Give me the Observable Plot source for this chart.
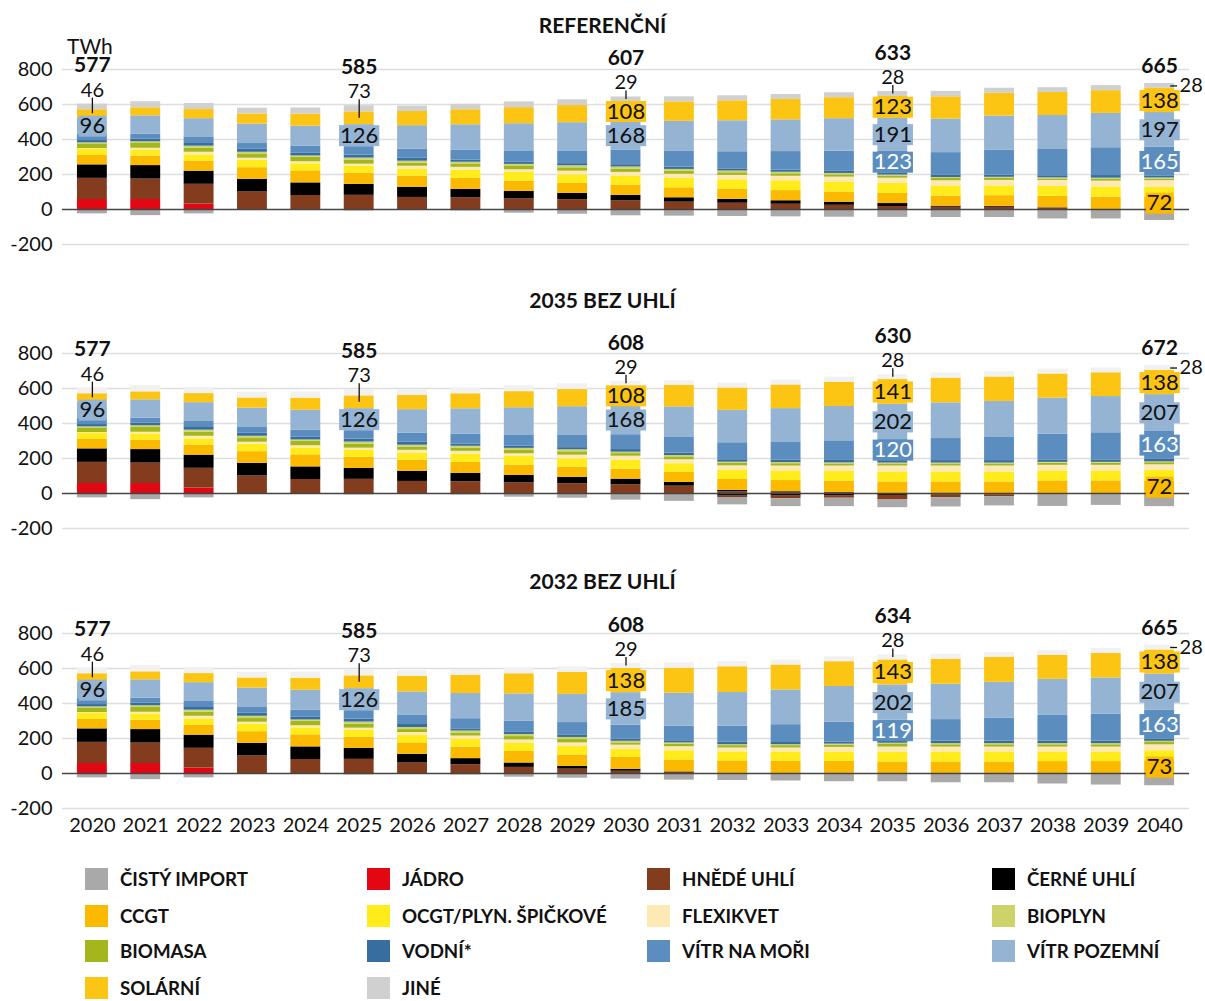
<!DOCTYPE html>
<html>
<head>
<meta charset="utf-8">
<script src="https://cdn.jsdelivr.net/npm/d3@7"></script>
<script src="https://cdn.jsdelivr.net/npm/@observablehq/plot@0.6"></script>
<style>
  html, body { margin: 0; padding: 0; background: #fff; }
  body { font-family: Lato, "Open Sans", sans-serif; color: #111; }
  #root { position: relative; width: 1205px; height: 1001px; overflow: hidden; }
  .ptitle { position: absolute; left: 0; width: 1205px; text-align: center; font-weight: 700; font-size: 21px; line-height: 22px; color: #111; }
  .panel { position: absolute; left: 0; }
  .unit { position: absolute; left: 67px; top: 38px; height: 16px; font-size: 21px; line-height: 16px; color: #111; }
  .leg { position: absolute; display: flex; align-items: center; font-weight: 700; font-size: 18.7px; color: #111; white-space: nowrap; }
  .sw { width: 23px; height: 22px; margin-right: 12px; flex: none; }
</style>
</head>
<body>
<div id="root"></div>
<script>
// ---------- categories ----------
const YEARS = ["2020","2021","2022","2023","2024","2025","2026","2027","2028","2029","2030",
               "2031","2032","2033","2034","2035","2036","2037","2038","2039","2040"];

const SERIES_KEYS   = ["import","jadro","hnede","cerne","ccgt","ocgt","flexi","bioplyn","biomasa","vodni","vitrMore","vitrPoz","solar","jine"];
const SERIES_NAMES  = ["ČISTÝ IMPORT","JÁDRO","HNĚDÉ UHLÍ","ČERNÉ UHLÍ","CCGT","OCGT/PLYN. ŠPIČKOVÉ","FLEXIKVET","BIOPLYN","BIOMASA","VODNÍ*","VÍTR NA MOŘI","VÍTR POZEMNÍ","SOLÁRNÍ","JINÉ"];
const SERIES_COLORS = ["#a9a9a9","#e30613","#843c1e","#000000","#fbb900","#ffec1a","#fee8b4","#cdd36a","#a3b71d","#386da0","#5b8ebf","#95b3d3","#fcc413","#d0d0d0"];
const JINE_LIGHT = "#f1f1f1";

// ---------- scenario 1: REFERENČNÍ (TWh) ----------
const REF_JADRO    = [57, 57, 31, 0, 0, 0, 0, 0, 0, 0, 0, 0, 0, 0, 0, 0, 0, 0, 0, 0, 0];
const REF_HNEDE    = [121, 117, 113, 100, 80, 81, 69, 67, 61, 56, 50, 42, 36, 30, 24, 17, 13, 13, 8, 0, 0];
const REF_CERNE    = [77, 77, 75, 72, 72, 63, 58, 48, 42, 36, 31, 25, 22, 20, 18, 17, 6, 5, 2, 0, 0];
const REF_CCGT     = [54, 54, 58, 67, 69, 63, 63, 63, 59, 58, 58, 57, 57, 58, 58, 58, 58, 61, 65, 71, 72];
const REF_OCGT     = [35, 35, 35, 42, 40, 40, 40, 46, 50, 48, 52, 54, 55, 56, 57, 58, 58, 56, 58, 58, 55];
const REF_FLEXI    = [4, 10, 15, 12, 12, 12, 17, 17, 15, 21, 21, 23, 25, 26, 28, 29, 29, 31, 33, 33, 38];
const REF_BIOMASA  = [27, 27, 23, 21, 25, 23, 17, 17, 19, 19, 19, 17, 15, 14, 13, 12, 13, 12, 9, 10, 8];
const REF_BIOPLYN  = [6, 10, 12, 13, 8, 12, 12, 12, 12, 12, 12, 11, 10, 9, 8, 6, 6, 6, 6, 7, 7];
const REF_VODNI    = [13, 15, 15, 17, 15, 17, 17, 12, 12, 12, 13, 13, 12, 12, 12, 12, 12, 12, 12, 15, 12];
const REF_VITRMORE = [34, 29, 38, 33, 40, 48, 52, 58, 65, 73, 82, 90, 98, 106, 115, 123, 130, 144, 150, 159, 165];
const REF_VITRPOZ  = [96, 104, 104, 111, 115, 126, 134, 144, 155, 161, 168, 172, 177, 181, 186, 191, 192, 194, 194, 196, 197];
const REF_SOLAR    = [46, 46, 52, 58, 69, 73, 81, 86, 92, 98, 108, 111, 114, 117, 120, 123, 127, 130, 132, 130, 138];
const REF_JINE     = [32, 35, 35, 33, 35, 35, 31, 31, 33, 33, 29, 29, 29, 28, 28, 28, 31, 29, 27, 29, 28];
const REF_IMPORT   = [-25, -35, -25, -3, -2, -8, 0, -8, -21, -27, -36, -38, -40, -42, -44, -45, -46, -46, -54, -54, -63];

const REF_LABEL_YEARS = ["2020","2025","2030","2035","2040"];
const REF_TOTALS      = [577, 585, 607, 633, 665];
const REF_TOP_VALUES  = [46, 73, 29, 28, 28];
const REF_TOP_SERIES  = ["solar","solar","jine","jine","jine"];
const REF_BOX_YEARS   = ["2020","2025","2030","2030","2035","2035","2035","2040","2040","2040","2040"];
const REF_BOX_SERIES  = ["vitrPoz","vitrPoz","solar","vitrPoz","solar","vitrPoz","vitrMore","solar","vitrPoz","vitrMore","ccgt"];
const REF_BOX_VALUES  = [96, 126, 108, 168, 123, 191, 123, 138, 197, 165, 72];

// ---------- scenario 2: 2035 BEZ UHLÍ ----------
const B35_JADRO    = [57, 57, 31, 0, 0, 0, 0, 0, 0, 0, 0, 0, 0, 0, 0, 0, 0, 0, 0, 0, 0];
const B35_HNEDE    = [121, 117, 113, 100, 80, 81, 69, 67, 61, 56, 50, 42, 10, 5, 3, 0, 0, 0, 0, 0, 0];
const B35_CERNE    = [77, 77, 75, 72, 72, 63, 58, 48, 42, 36, 32, 21, 8, 5, 3, 0, 0, 0, 0, 0, 0];
const B35_CCGT     = [54, 54, 58, 67, 69, 63, 63, 63, 59, 58, 57, 58, 62, 64, 65, 66, 66, 66, 72, 72, 72];
const B35_OCGT     = [35, 35, 35, 42, 40, 40, 40, 46, 50, 48, 51, 49, 52, 55, 56, 57, 57, 57, 57, 57, 60];
const B35_FLEXI    = [4, 10, 15, 12, 12, 12, 17, 17, 15, 21, 23, 23, 26, 28, 30, 34, 34, 34, 32, 32, 32];
const B35_BIOMASA  = [27, 27, 23, 21, 25, 23, 17, 17, 19, 19, 15, 16, 14, 13, 12, 12, 12, 12, 12, 12, 12];
const B35_BIOPLYN  = [6, 10, 12, 13, 8, 12, 12, 12, 12, 12, 8, 8, 7, 7, 6, 5, 5, 5, 5, 5, 5];
const B35_VODNI    = [13, 15, 15, 17, 15, 17, 17, 12, 12, 12, 15, 14, 14, 14, 14, 14, 14, 14, 14, 14, 14];
const B35_VITRMORE = [34, 29, 38, 33, 40, 48, 52, 58, 65, 73, 85, 89, 97, 104, 112, 120, 126, 132, 147, 155, 163];
const B35_VITRPOZ  = [96, 104, 104, 111, 115, 126, 134, 144, 155, 161, 168, 175, 185, 190, 196, 202, 204, 206, 206, 207, 207];
const B35_SOLAR    = [46, 46, 52, 58, 69, 73, 81, 86, 92, 98, 108, 123, 128, 135, 139, 141, 141, 140, 138, 136, 138];
const B35_JINE     = [32, 35, 35, 33, 35, 35, 31, 31, 33, 33, 29, 26, 28, 28, 28, 28, 30, 30, 28, 27, 28];
const B35_CERNE_NEG = [0, 0, 0, 0, 0, 0, 0, 0, 0, 0, 0, -5, -15, -15, -12, -11, -9, -8, -3, 0, 0];
const B35_HNEDE_NEG = [0, 0, 0, 0, 0, 0, 0, 0, 0, 0, 0, 0, -8, -15, -15, -26, -15, -10, -5, 0, 0];
const B35_IMPORT   = [-25, -35, -25, -3, -2, -8, 0, -8, -21, -27, -38, -40, -42, -45, -48, -44, -53, -53, -66, -68, -75];

const B35_LABEL_YEARS = ["2020","2025","2030","2035","2040"];
const B35_TOTALS      = [577, 585, 608, 630, 672];
const B35_TOP_VALUES  = [46, 73, 29, 28, 28];
const B35_TOP_SERIES  = ["solar","solar","jine","jine","jine"];
const B35_BOX_YEARS   = ["2020","2025","2030","2030","2035","2035","2035","2040","2040","2040","2040"];
const B35_BOX_SERIES  = ["vitrPoz","vitrPoz","solar","vitrPoz","solar","vitrPoz","vitrMore","solar","vitrPoz","vitrMore","ccgt"];
const B35_BOX_VALUES  = [96, 126, 108, 168, 141, 202, 120, 138, 207, 163, 72];

// ---------- scenario 3: 2032 BEZ UHLÍ ----------
const B32_JADRO    = [57, 57, 31, 0, 0, 0, 0, 0, 0, 0, 0, 0, 0, 0, 0, 0, 0, 0, 0, 0, 0];
const B32_HNEDE    = [121, 117, 113, 100, 80, 81, 60, 50, 35, 25, 13, 6, 0, 0, 0, 0, 0, 0, 0, 0, 0];
const B32_CERNE    = [77, 77, 75, 72, 72, 63, 50, 35, 25, 15, 11, 3, 0, 0, 0, 0, 0, 0, 0, 0, 0];
const B32_CCGT     = [54, 54, 58, 67, 69, 63, 65, 66, 66, 66, 68, 68, 72, 70, 70, 66, 66, 66, 68, 68, 73];
const B32_OCGT     = [35, 35, 35, 42, 40, 40, 42, 46, 48, 48, 47, 53, 51, 53, 53, 55, 57, 57, 55, 55, 57];
const B32_FLEXI    = [4, 10, 15, 12, 12, 12, 17, 17, 18, 21, 23, 23, 23, 23, 26, 30, 28, 28, 28, 28, 34];
const B32_BIOMASA  = [27, 27, 23, 21, 25, 23, 17, 17, 19, 19, 13, 15, 13, 13, 13, 15, 13, 13, 13, 13, 13];
const B32_BIOPLYN  = [6, 10, 12, 13, 8, 12, 12, 12, 12, 12, 9, 7, 6, 6, 6, 7, 7, 7, 7, 7, 7];
const B32_VODNI    = [13, 15, 15, 17, 15, 17, 17, 12, 12, 12, 13, 12, 15, 12, 12, 12, 14, 14, 14, 14, 14];
const B32_VITRMORE = [34, 29, 38, 33, 40, 48, 52, 58, 65, 73, 80, 83, 91, 102, 113, 119, 123, 132, 147, 155, 163];
const B32_VITRPOZ  = [96, 104, 104, 111, 115, 126, 134, 144, 155, 161, 185, 189, 192, 198, 204, 202, 202, 204, 206, 206, 207];
const B32_SOLAR    = [46, 46, 52, 58, 69, 73, 90, 105, 115, 125, 138, 143, 147, 143, 142, 143, 143, 142, 138, 140, 138];
const B32_JINE     = [32, 35, 35, 33, 35, 35, 31, 31, 33, 33, 29, 30, 30, 28, 28, 28, 28, 28, 28, 28, 28];
const B32_IMPORT   = [-25, -35, -25, -3, -2, -8, 0, -8, -21, -27, -32, -38, -40, -43, -47, -47, -53, -53, -60, -66, -70];

const B32_LABEL_YEARS = ["2020","2025","2030","2035","2040"];
const B32_TOTALS      = [577, 585, 608, 634, 665];
const B32_TOP_VALUES  = [46, 73, 29, 28, 28];
const B32_TOP_SERIES  = ["solar","solar","jine","jine","jine"];
const B32_BOX_YEARS   = ["2020","2025","2030","2030","2035","2035","2035","2040","2040","2040","2040"];
const B32_BOX_SERIES  = ["vitrPoz","vitrPoz","solar","vitrPoz","solar","vitrPoz","vitrMore","solar","vitrPoz","vitrMore","ccgt"];
const B32_BOX_VALUES  = [96, 126, 138, 185, 143, 202, 119, 138, 207, 163, 73];

const Y_TICKS = [-200, 0, 200, 400, 600, 800];

// ---------- helpers ----------
const colorOf = k => SERIES_COLORS[SERIES_KEYS.indexOf(k)];

function scenario(title, pos, neg, jineColor, labels) {
  return { title, pos, neg, jineColor, labels };
}

const SCENARIOS = [
  scenario("REFERENČNÍ",
    [["jadro",REF_JADRO],["hnede",REF_HNEDE],["cerne",REF_CERNE],["ccgt",REF_CCGT],["ocgt",REF_OCGT],["flexi",REF_FLEXI],
     ["biomasa",REF_BIOMASA],["bioplyn",REF_BIOPLYN],["vodni",REF_VODNI],["vitrMore",REF_VITRMORE],["vitrPoz",REF_VITRPOZ],
     ["solar",REF_SOLAR],["jine",REF_JINE]],
    [["import",REF_IMPORT]],
    SERIES_COLORS[13],
    {years: REF_LABEL_YEARS, totals: REF_TOTALS, topValues: REF_TOP_VALUES, topSeries: REF_TOP_SERIES,
     boxYears: REF_BOX_YEARS, boxSeries: REF_BOX_SERIES, boxValues: REF_BOX_VALUES}),
  scenario("2035 BEZ UHLÍ",
    [["jadro",B35_JADRO],["hnede",B35_HNEDE],["cerne",B35_CERNE],["ccgt",B35_CCGT],["ocgt",B35_OCGT],["flexi",B35_FLEXI],
     ["biomasa",B35_BIOMASA],["bioplyn",B35_BIOPLYN],["vodni",B35_VODNI],["vitrMore",B35_VITRMORE],["vitrPoz",B35_VITRPOZ],
     ["solar",B35_SOLAR],["jine",B35_JINE]],
    [["cerne",B35_CERNE_NEG],["hnede",B35_HNEDE_NEG],["import",B35_IMPORT]],
    JINE_LIGHT,
    {years: B35_LABEL_YEARS, totals: B35_TOTALS, topValues: B35_TOP_VALUES, topSeries: B35_TOP_SERIES,
     boxYears: B35_BOX_YEARS, boxSeries: B35_BOX_SERIES, boxValues: B35_BOX_VALUES}),
  scenario("2032 BEZ UHLÍ",
    [["jadro",B32_JADRO],["hnede",B32_HNEDE],["cerne",B32_CERNE],["ccgt",B32_CCGT],["ocgt",B32_OCGT],["flexi",B32_FLEXI],
     ["biomasa",B32_BIOMASA],["bioplyn",B32_BIOPLYN],["vodni",B32_VODNI],["vitrMore",B32_VITRMORE],["vitrPoz",B32_VITRPOZ],
     ["solar",B32_SOLAR],["jine",B32_JINE]],
    [["import",B32_IMPORT]],
    JINE_LIGHT,
    {years: B32_LABEL_YEARS, totals: B32_TOTALS, topValues: B32_TOP_VALUES, topSeries: B32_TOP_SERIES,
     boxYears: B32_BOX_YEARS, boxSeries: B32_BOX_SERIES, boxValues: B32_BOX_VALUES})
];

// stack the values (positive upward, negative downward)
function stack(S) {
  const rects = [], mids = new Map(), tops = new Map();
  YEARS.forEach((yr, i) => {
    let c = 0;
    for (const [key, arr] of S.pos) {
      const v = arr[i];
      if (v > 0) {
        rects.push({year: yr, y1: c, y2: c + v, fill: key === "jine" ? S.jineColor : colorOf(key)});
        mids.set(key + yr, c + v / 2);
        c += v;
      }
    }
    tops.set(yr, c);
    let n = 0;
    for (const [key, arr] of S.neg) {
      const v = arr[i];
      if (v < 0) {
        rects.push({year: yr, y1: n + v, y2: n, fill: colorOf(key)});
        n += v;
      }
    }
  });
  return {rects, mids, tops};
}

const root = document.getElementById("root");
const PANEL_TOPS = [9, 293, 573];
const TITLE_TOPS = [14, 289, 570];
const LAST_YEAR = YEARS[YEARS.length - 1];
const INK = "#111111";

SCENARIOS.forEach((S, p) => {
  const {rects, mids, tops} = stack(S);
  const L = S.labels;
  const totals = L.years.map((yr, j) => ({year: yr, y: tops.get(yr), text: String(L.totals[j]), right: yr === LAST_YEAR}));
  const smalls = L.years.map((yr, j) => ({year: yr, top: tops.get(yr), mid: mids.get(L.topSeries[j] + yr), text: String(L.topValues[j]), right: yr === LAST_YEAR}));
  const boxes = L.boxYears.map((yr, j) => ({year: yr, y: mids.get(L.boxSeries[j] + yr), text: String(L.boxValues[j]),
    box: L.boxSeries[j] === "jine" ? S.jineColor : colorOf(L.boxSeries[j]), ink: L.boxSeries[j] === "vitrMore" ? "#ffffff" : INK}));

  const isLast = p === SCENARIOS.length - 1;
  const MT = 60, PH = 175, MB = isLast ? 40 : 14;

  const chart = Plot.plot({
    width: 1205,
    height: MT + PH + MB,
    marginLeft: 62, marginRight: 16, marginTop: MT, marginBottom: MB,
    style: {fontFamily: "Lato, sans-serif", fontSize: "20px", color: INK, background: "transparent", overflow: "visible"},
    x: {type: "band", domain: YEARS, paddingInner: 0.44, paddingOuter: 0.28, round: false, label: null,
        axis: isLast ? "bottom" : null, tickSize: 0, tickPadding: 9},
    y: {domain: [-200, 800], ticks: Y_TICKS, tickFormat: d => String(d), tickSize: 0, tickPadding: 10, label: null, fontSize: 21},
    marks: [
      Plot.ruleY(Y_TICKS.filter(d => d !== 0), {stroke: "#dedede", strokeWidth: 1.5}),
      Plot.barY(rects, {x: "year", y1: "y1", y2: "y2", fill: "fill"}),
      Plot.ruleY([0], {stroke: "#444", strokeWidth: 1.5}),
      // leader lines for the small labels
      Plot.ruleX(smalls.filter(d => !d.right), {x: "year", y1: "top", y2: "mid", insetTop: -6, stroke: INK, strokeWidth: 1.3}),
      Plot.tickY(smalls.filter(d => d.right), {x: "year", y: "mid", stroke: INK, strokeWidth: 1.3, insetLeft: 26, insetRight: -3}),
      Plot.text(smalls.filter(d => !d.right), {x: "year", y: "top", text: "text", dy: -14, fontSize: 20, fill: INK, lineAnchor: "middle"}),
      Plot.text(smalls.filter(d => d.right), {x: "year", y: "mid", text: "text", dx: 20, textAnchor: "start", fontSize: 20, fill: INK, lineAnchor: "middle"}),
      // bold totals
      Plot.text(totals.filter(d => !d.right), {x: "year", y: "y", text: "text", dy: -38.5, fontSize: 21, fontWeight: 700, fill: INK, lineAnchor: "middle"}),
      Plot.text(totals.filter(d => d.right), {x: "year", y: "y", text: "text", dy: -17, fontSize: 21, fontWeight: 700, fill: INK, lineAnchor: "middle"}),
      // labels inside segments (boxes added below)
      Plot.text(boxes, {x: "year", y: "y", text: "text", fontSize: 22, fill: "ink", lineAnchor: "middle"})
    ]
  });

  const wrap = document.createElement("div");
  wrap.className = "panel";
  wrap.style.top = PANEL_TOPS[p] + "px";
  wrap.appendChild(chart);
  root.appendChild(wrap);

  // coloured background boxes behind the segment labels, sized to each label
  const textGroups = chart.querySelectorAll('g[aria-label="text"]');
  const boxG = textGroups[textGroups.length - 1];
  boxG.querySelectorAll("text").forEach((t, i) => {
    const b = t.getBBox();
    const r = document.createElementNS("http://www.w3.org/2000/svg", "rect");
    r.setAttribute("x", b.x - 1);
    r.setAttribute("width", b.width + 2);
    r.setAttribute("y", -10.5);
    r.setAttribute("height", 21);
    r.setAttribute("fill", boxes[i].box);
    const tr = t.getAttribute("transform");
    if (tr) r.setAttribute("transform", tr);
    t.parentNode.insertBefore(r, t);
  });

  const title = document.createElement("div");
  title.className = "ptitle";
  title.style.top = TITLE_TOPS[p] + "px";
  title.textContent = S.title;
  root.appendChild(title);
});

const unit = document.createElement("div");
unit.className = "unit";
unit.textContent = "TWh";
root.appendChild(unit);

// ---------- legend ----------
const LEG_X = [85, 367, 647, 992];
const LEG_Y = [879, 916, 951, 988];
SERIES_KEYS.forEach((k, i) => {
  const col = i % 4, row = Math.floor(i / 4);
  const item = document.createElement("div");
  item.className = "leg";
  item.style.left = LEG_X[col] + "px";
  item.style.top = (LEG_Y[row] - 11) + "px";
  item.style.height = "22px";
  const sw = document.createElement("div");
  sw.className = "sw";
  sw.style.background = SERIES_COLORS[i];
  item.appendChild(sw);
  const tx = document.createElement("span");
  tx.textContent = SERIES_NAMES[i];
  item.appendChild(tx);
  root.appendChild(item);
});
</script>
</body>
</html>
